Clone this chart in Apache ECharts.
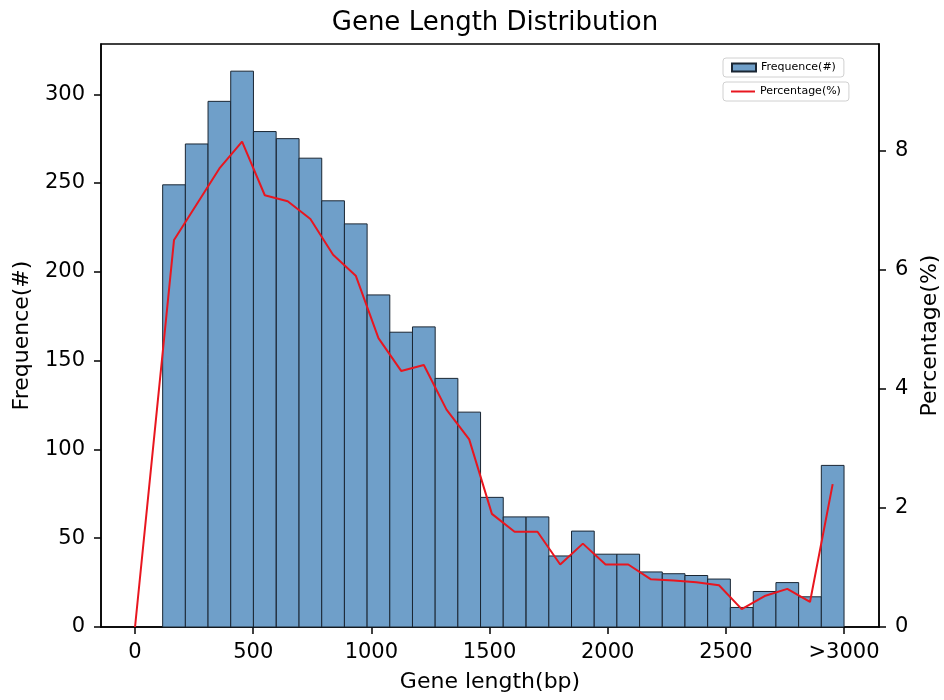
<!DOCTYPE html>
<html>
<head>
<meta charset="utf-8">
<script src="https://cdn.jsdelivr.net/npm/echarts@6/dist/echarts.min.js"></script>
<style>
html, body { margin: 0; padding: 0; background: #fff; }
#chart { width: 944px; height: 700px; }
</style>
</head>
<body>
<div id="chart"></div>
<script>
var chart = echarts.init(document.getElementById('chart'));

// 直方图的每个柱子中心 (bp)
var binCenters = [165, 261, 357, 453, 549, 646, 742, 838, 934, 1030,
                  1126, 1222, 1318, 1414, 1510, 1606, 1703, 1799, 1895, 1991,
                  2087, 2183, 2279, 2375, 2471, 2567, 2664, 2760, 2856, 2952];
var binWidth = 96.1;
// 基因数
var counts = [249, 272, 296, 313, 279, 275, 264, 240, 227, 187,
              166, 169, 140, 121, 73, 62, 62, 40, 54, 41,
              41, 31, 30, 29, 27, 11, 20, 25, 17, 91];
// 百分比(%)
var percents = [6.5, 7.1, 7.7, 8.15, 7.25, 7.15, 6.85, 6.25, 5.9, 4.85,
                4.3, 4.4, 3.65, 3.15, 1.9, 1.6, 1.6, 1.05, 1.4, 1.05,
                1.05, 0.8, 0.78, 0.75, 0.7, 0.3, 0.52, 0.64, 0.42, 2.4];
var xTicks = [0, 500, 1000, 1500, 2000, 2500, 3000];
var yTicks = [0, 50, 100, 150, 200, 250, 300];
var y2Ticks = [0, 2, 4, 6, 8];

var barData = [];
for (var i = 0; i < binCenters.length; i++) {
    barData.push([binCenters[i], counts[i]]);
}
var lineData = [[0, 0]];
for (var j = 0; j < binCenters.length; j++) {
    lineData.push([binCenters[j], percents[j]]);
}

var font = 'DejaVu Sans';
var option = {
    animation: false,
    textStyle: { fontFamily: font },
    title: {
        text: 'Gene Length Distribution',
        left: 490, top: 5, textAlign: 'center',
        textStyle: { fontFamily: font, fontSize: 26, fontWeight: 'normal', color: '#000' }
    },
    legend: [{
        data: [{ name: 'Frequence(#)', icon: 'rect' }],
        left: 723, top: 58,
        itemWidth: 24, itemHeight: 8,
        padding: [4, 8, 4, 8],
        borderColor: '#d0d0d0', borderWidth: 1, borderRadius: 3,
        textStyle: { fontFamily: font, fontSize: 11, color: '#000' }
    }, {
        data: [{ name: 'Percentage(%)', icon: 'rect' }],
        left: 723, top: 82,
        itemWidth: 24, itemHeight: 2,
        padding: [4, 8, 4, 8],
        borderColor: '#d0d0d0', borderWidth: 1, borderRadius: 3,
        textStyle: { fontFamily: font, fontSize: 11, color: '#000' }
    }],
    grid: {
        left: 101, right: 65, top: 44, bottom: 73,
        outerBoundsMode: 'none',
        show: true, borderColor: '#000', borderWidth: 1.5
    },
    xAxis: {
        type: 'value', min: -144, max: 3148,
        name: 'Gene length(bp)', nameLocation: 'middle', nameGap: 44,
        nameTextStyle: { fontFamily: font, fontSize: 22, color: '#000' },
        splitLine: { show: false },
        axisLine: { onZero: false, lineStyle: { color: '#000', width: 1.5 } },
        axisTick: { length: 7, lineStyle: { color: '#000', width: 1.5 }, customValues: xTicks },
        axisLabel: {
            fontFamily: font, fontSize: 21, color: '#000', margin: 15,
            customValues: xTicks,
            formatter: function (v) { return v === 3000 ? '>3000' : String(v); }
        }
    },
    yAxis: [{
        type: 'value', min: 0, max: 328.3, position: 'left',
        name: 'Frequence(#)', nameLocation: 'middle', nameGap: 68, nameRotate: 90,
        nameTextStyle: { fontFamily: font, fontSize: 22, color: '#000' },
        splitLine: { show: false },
        axisLine: { show: true, onZero: false, lineStyle: { color: '#000', width: 1.5 } },
        axisTick: { show: true, length: 7, lineStyle: { color: '#000', width: 1.5 }, customValues: yTicks },
        axisLabel: { fontFamily: font, fontSize: 21, color: '#000', margin: 16, customValues: yTicks }
    }, {
        type: 'value', min: 0, max: 9.79, position: 'right',
        name: 'Percentage(%)', nameLocation: 'middle', nameGap: 40, nameRotate: 90,
        nameTextStyle: { fontFamily: font, fontSize: 22, color: '#000' },
        splitLine: { show: false },
        axisLine: { show: true, onZero: false, lineStyle: { color: '#000', width: 1.5 } },
        axisTick: { show: true, length: 7, lineStyle: { color: '#000', width: 1.5 }, customValues: y2Ticks },
        axisLabel: { fontFamily: font, fontSize: 21, color: '#000', margin: 16, customValues: y2Ticks }
    }],
    series: [{
        name: 'Frequence(#)',
        type: 'custom',
        yAxisIndex: 0,
        itemStyle: { color: '#6f9fc9', borderColor: '#1a2633', borderWidth: 1 },
        renderItem: function (params, api) {
            var c = api.value(0);
            var p0 = api.coord([c - binWidth / 2, api.value(1)]);
            var p1 = api.coord([c + binWidth / 2, 0]);
            return {
                type: 'rect',
                shape: { x: p0[0], y: p0[1], width: p1[0] - p0[0], height: p1[1] - p0[1] },
                style: { fill: '#6f9fc9', stroke: '#1a2633', lineWidth: 1 }
            };
        },
        encode: { x: 0, y: 1 },
        data: barData
    }, {
        name: 'Percentage(%)',
        type: 'line',
        yAxisIndex: 1,
        symbol: 'none',
        itemStyle: { color: '#e8161f' },
        lineStyle: { color: '#e8161f', width: 2 },
        data: lineData,
        z: 5
    }]
};
chart.setOption(option);
</script>
</body>
</html>
